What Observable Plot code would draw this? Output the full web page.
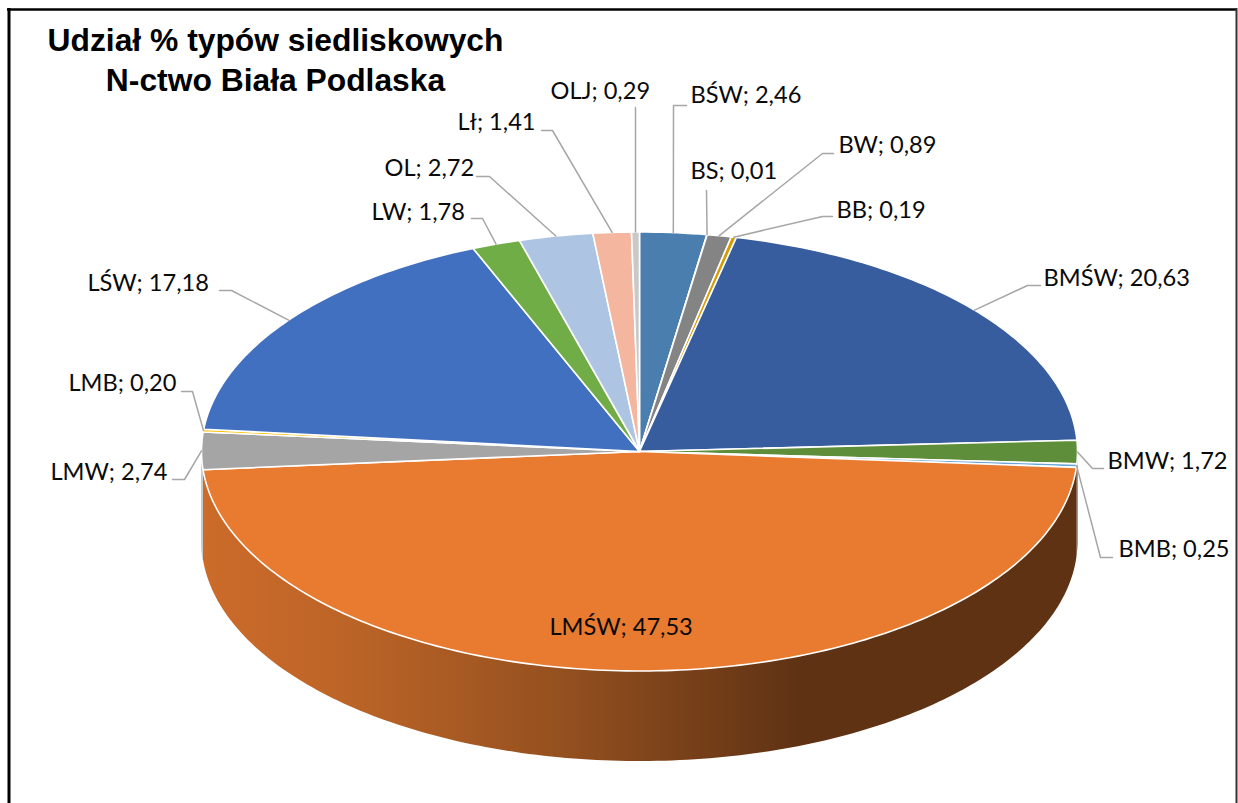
<!DOCTYPE html>
<html lang="pl">
<head>
<meta charset="utf-8">
<title>Udział % typów siedliskowych</title>
<script src="https://cdn.jsdelivr.net/npm/d3@7"></script>
<script src="https://cdn.jsdelivr.net/npm/@observablehq/plot@0.6"></script>
<style>html,body{margin:0;padding:0;background:#fff}svg{display:block}</style>
</head>
<body>
<div id="chart"></div>
<script>
const displayNames = ["BŚW","BS","BW","BB","BMŚW","BMW","BMB","LMŚW","LMW","LMB","LŚW","LW","OL","Lł","OLJ"];
const values = [2.46,0.01,0.89,0.19,20.63,1.72,0.25,47.53,2.74,0.20,17.18,1.78,2.72,1.41,0.29];
const colors = ["#4a7eae","#7f7f7f","#848484","#d49c00","#375d9f","#5e8e3a","#6aa5d8","#e97b31","#a5a5a5","#ffc000","#4270c0","#70ad47","#adc4e3","#f4b69e","#c9c9c9"];
const titleLines = ["Udział % typów siedliskowych","N-ctwo Biała Podlaska"];

// Layout of the drawing (pixels of the picture)
const W = 1238, H = 803;
const pie = {cx: 639, cy: 451, rx: 438, ry: 219.5, depth: 90};
const labelX = [690,690,838,836,1043,1107,1118,549,50,68,87,371,384,457,550];
const labelY = [95,171,145,210,278,461,549,627,472,383,283,212,168,122,91];
const elbowA = [[686,105],[706,190],[833,153],[832,216],[1040,285],[1103,468],[1112,557],null,[172,479],[181,391],[219,290],[471,218],[476,176],[541,130],[635,107]];
const elbowB = [[673,105],[706,190],[822,153],[822,216],[1027,285],[1092,468],[1100,557],null,[184,479],[192,391],[231,290],[482,218],[489,176],[552,130],[635,107]];

const fmt = v => v.toFixed(2).replace(".", ",");
const rad = d => d * Math.PI / 180;
const px = t => pie.cx + pie.rx * Math.sin(t);
const py = t => pie.cy - pie.ry * Math.cos(t);
const total = d3.sum(values);

let acc = 0;
const slices = values.map((v, i) => {
  const a0 = acc / total * 2 * Math.PI; acc += v;
  const a1 = acc / total * 2 * Math.PI;
  return {i, name: displayNames[i], value: v, a0, a1, mid: (a0 + a1) / 2, color: colors[i]};
});
const arc = (a0, a1) => {
  const n = Math.max(1, Math.ceil((a1 - a0) / rad(1)));
  return d3.range(n + 1).map(k => a0 + (a1 - a0) * k / n);
};
const topFaces = slices.flatMap(s => [
  {k: s.i, x: pie.cx, y: pie.cy, color: s.color},
  ...arc(s.a0, s.a1).map(t => ({k: s.i, x: px(t), y: py(t), color: s.color})),
  {k: s.i, x: pie.cx, y: pie.cy, color: s.color}
]);
const wallOf = s => {
  const a0 = Math.max(s.a0, rad(90)), a1 = Math.min(s.a1, rad(270));
  if (a1 <= a0) return [];
  const as = arc(a0, a1);
  return [...as.map(t => ({k: s.i, x: px(t), y: py(t)})),
          ...as.slice().reverse().map(t => ({k: s.i, x: px(t), y: py(t) + pie.depth}))];
};
const mainWall = wallOf(slices[7]);
const sliverWall = wallOf(slices[8]);
const rightWall = [...wallOf(slices[5]), ...wallOf(slices[6])];

const leaders = slices.filter(s => elbowA[s.i]).flatMap(s => {
  const pts = [[px(s.mid), py(s.mid)], elbowB[s.i], elbowA[s.i]];
  return pts.map(p => ({k: s.i, x: p[0], y: p[1]}));
});
const labels = slices.map(s => ({x: labelX[s.i], y: labelY[s.i], text: `${s.name}; ${fmt(s.value)}`}));

const defs = () => {
  const d = d3.create("svg:defs");
  const g = d.append("linearGradient").attr("id", "wallGrad")
    .attr("gradientUnits", "userSpaceOnUse")
    .attr("x1", 202).attr("x2", 800).attr("y1", 0).attr("y2", 0);
  g.append("stop").attr("offset", "0%").attr("stop-color", "#cc6b2a");
  g.append("stop").attr("offset", "25%").attr("stop-color", "#bb6427");
  g.append("stop").attr("offset", "60%").attr("stop-color", "#94501f");
  g.append("stop").attr("offset", "100%").attr("stop-color", "#5f3214");
  return d.node();
};

const plot = Plot.plot({
  width: W, height: H, margin: 0,
  x: {domain: [0, W], range: [0, W], axis: null},
  y: {domain: [0, H], range: [0, H], axis: null},
  style: {background: "#fff"},
  marks: [
    defs,
    Plot.ruleX([8.5], {y1: 8, y2: H, stroke: "#000", strokeWidth: 3}),
    Plot.ruleY([9], {x1: 7, x2: 1237, stroke: "#000", strokeWidth: 2.5}),
    Plot.ruleX([1236], {y1: 8, y2: H, stroke: "#333", strokeWidth: 2}),
    Plot.line(rightWall, {x: "x", y: "y", z: "k", fill: "#5f3214", stroke: "none"}),
    Plot.line(sliverWall, {x: "x", y: "y", z: "k", fill: "#c9c9c9", stroke: "#c9c9c9", strokeWidth: 1}),
    Plot.line(mainWall, {x: "x", y: "y", z: "k", fill: "url(#wallGrad)", stroke: "none"}),
    Plot.line(topFaces, {x: "x", y: "y", z: "k", fill: "color", stroke: "#fff", strokeWidth: 1.6, strokeLinejoin: "round"}),
    Plot.line(leaders, {x: "x", y: "y", z: "k", stroke: "#a6a6a6", strokeWidth: 1.5}),
    Plot.text(labels, {x: "x", y: "y", text: "text", textAnchor: "start", fontFamily: "Lato", fontSize: 23.6, fill: "#0a0a0a"}),
    Plot.text(titleLines, {x: () => 275, y: (d, i) => [40, 80][i], text: d => d, fontFamily: "Liberation Sans", fontWeight: "bold", fontSize: 31.8, fill: "#000"})
  ]
});
document.getElementById("chart").append(plot);
</script>
</body>
</html>
